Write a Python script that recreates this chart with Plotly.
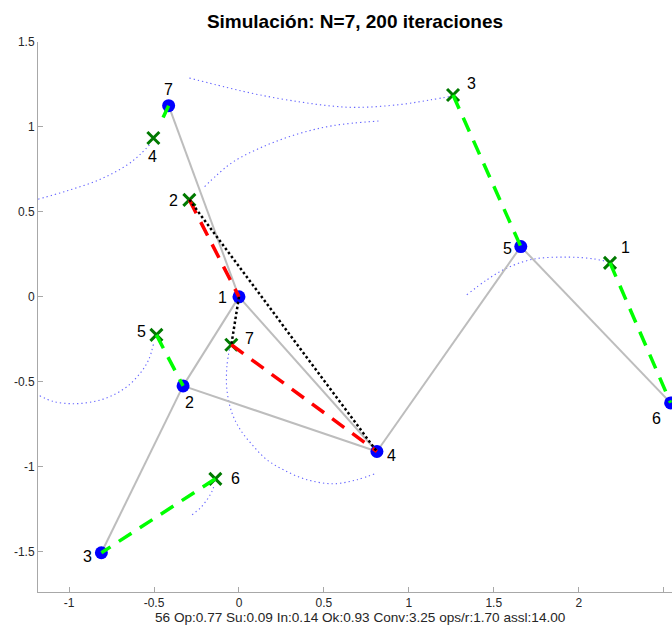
import plotly.graph_objects as go

# ---------------- data ----------------
agent_ids = [1, 2, 3, 4, 5, 6, 7]
agent_x = [0.0, -0.329, -0.810, 0.812, 1.659, 2.541, -0.414]
agent_y = [0.0, -0.524, -1.506, -0.910, 0.296, -0.624, 1.125]

target_ids = [1, 2, 3, 4, 5, 6, 7]
target_x = [2.184, -0.292, 1.260, -0.504, -0.486, -0.139, -0.045]
target_y = [0.200, 0.571, 1.188, 0.935, -0.224, -1.071, -0.282]

# communication graph between agents (agent ids)
edges = [(7, 1), (1, 2), (1, 4), (2, 3), (2, 4), (4, 5), (5, 6)]

# assignments (target id, agent id)
green_links = [(3, 5), (1, 6), (5, 2), (6, 3)]
green_short_link = (4, 7)
red_links = [(2, 1), (7, 4)]
black_links = [(2, 4), (7, 1)]

# target trajectories (dotted blue)
path_t3_x = [-0.292, -0.081, 0.125, 0.361, 0.537, 0.696, 0.949, 1.125, 1.260]
path_t3_y = [1.288, 1.235, 1.188, 1.147, 1.124, 1.115, 1.132, 1.159, 1.182]
path_t2_x = [-0.202, -0.129, -0.032, 0.165, 0.361, 0.555, 0.821]
path_t2_y = [0.649, 0.718, 0.796, 0.894, 0.963, 1.008, 1.035]
path_t4_x = [-1.182, -1.012, -0.816, -0.659, -0.581, -0.518]
path_t4_y = [0.575, 0.624, 0.692, 0.776, 0.839, 0.904]
path_t1_x = [1.341, 1.459, 1.576, 1.733, 1.929, 2.086, 2.165]
path_t1_y = [0.012, 0.100, 0.169, 0.222, 0.234, 0.224, 0.208]
path_t5_x = [-1.173, -1.091, -0.973, -0.855, -0.757, -0.659, -0.581, -0.532, -0.502]
path_t5_y = [-0.582, -0.616, -0.629, -0.616, -0.586, -0.528, -0.449, -0.371, -0.273]
path_t7_x = [-0.051, -0.071, -0.071, -0.041, 0.008, 0.086, 0.165, 0.262, 0.400, 0.556, 0.694, 0.812]
path_t7_y = [-0.282, -0.410, -0.547, -0.684, -0.782, -0.880, -0.959, -1.018, -1.076, -1.100, -1.076, -1.037]
path_t6_x = [-0.276, -0.228, -0.188, -0.159, -0.145]
path_t6_y = [-1.282, -1.243, -1.194, -1.145, -1.106]

x_ticks = [-1, -0.5, 0, 0.5, 1, 1.5, 2, 2.5]
y_ticks = [-1.5, -1, -0.5, 0, 0.5, 1, 1.5]
x_tick_labels = ["-1", "-0.5", "0", "0.5", "1", "1.5", "2", "2.5"]
y_tick_labels = ["-1.5", "-1", "-0.5", "0", "0.5", "1", "1.5"]

title_text = "Simulación: N=7, 200 iteraciones"
xlabel_text = "56 Op:0.77 Su:0.09 In:0.14 Ok:0.93 Conv:3.25 ops/r:1.70 assl:14.00"

# label pixel offsets (style)
agent_label_shift = {1: (-16, 1), 2: (6, 17), 3: (-14, 4), 4: (15, 4),
                     5: (-13, 2), 6: (-14, 16), 7: (0, -16)}
target_label_shift = {1: (16, -15), 2: (-16, 1), 3: (18, -12), 4: (-1, 18),
                      5: (-15, -3), 6: (20, 0), 7: (18, -6)}

# ---------------- figure ----------------
FONT = "Liberation Sans, Arial, Helvetica, sans-serif"
fig = go.Figure()

paths = [(path_t3_x, path_t3_y), (path_t2_x, path_t2_y), (path_t4_x, path_t4_y),
         (path_t1_x, path_t1_y), (path_t5_x, path_t5_y), (path_t7_x, path_t7_y),
         (path_t6_x, path_t6_y)]
for px, py in paths:
    fig.add_trace(go.Scatter(x=px, y=py, mode="lines", line_shape="spline",
                             line=dict(color="rgb(100,100,255)", width=1.1, dash="1.3px,3px"),
                             hoverinfo="skip"))

ax = dict(zip(agent_ids, agent_x))
ay = dict(zip(agent_ids, agent_y))
tx = dict(zip(target_ids, target_x))
ty = dict(zip(target_ids, target_y))

ex, ey = [], []
for a, b in edges:
    ex += [ax[a], ax[b], None]
    ey += [ay[a], ay[b], None]
fig.add_trace(go.Scatter(x=ex, y=ey, mode="lines",
                         line=dict(color="#bdbdbd", width=2), hoverinfo="skip"))

fig.add_trace(go.Scatter(x=agent_x, y=agent_y, mode="markers",
                         marker=dict(color="#0000ff", size=13, line=dict(width=0)),
                         hoverinfo="skip"))
fig.add_trace(go.Scatter(x=target_x, y=target_y, mode="markers",
                         marker=dict(symbol="x-thin", size=12, color="#007a00",
                                     line=dict(color="#007a00", width=3)),
                         hoverinfo="skip"))

def link_trace(links, color, width, dash, from_agent=False):
    for t, a in links:
        if from_agent:
            xs, ys = [ax[a], tx[t]], [ay[a], ty[t]]
        else:
            xs, ys = [tx[t], ax[a]], [ty[t], ay[a]]
        fig.add_trace(go.Scatter(x=xs, y=ys, mode="lines",
                                 line=dict(color=color, width=width, dash=dash),
                                 hoverinfo="skip"))

link_trace(green_links, "#00ff00", 3.5, "15px,10px")
link_trace([green_short_link], "#00ff00", 3.5, "13px,200px", from_agent=True)
link_trace(red_links, "#ff0000", 3.5, "15px,10px")
link_trace([black_links[0]], "#000000", 2.5, "2.5px,2.5px")
link_trace([black_links[1]], "#000000", 2.5, "2.5px,2.5px", from_agent=True)

annotations = []
for i, x, y in zip(agent_ids, agent_x, agent_y):
    dx, dy = agent_label_shift[i]
    annotations.append(dict(x=x, y=y, xref="x", yref="y", text=str(i), showarrow=False,
                            xshift=dx, yshift=-dy, font=dict(size=16, color="black", family=FONT)))
for i, x, y in zip(target_ids, target_x, target_y):
    dx, dy = target_label_shift[i]
    annotations.append(dict(x=x, y=y, xref="x", yref="y", text=str(i), showarrow=False,
                            xshift=dx, yshift=-dy, font=dict(size=16, color="black", family=FONT)))
annotations.append(dict(x=0.508, y=-0.047, xref="paper", yref="paper", text=xlabel_text,
                        showarrow=False, xanchor="center", yanchor="middle",
                        font=dict(size=13.6, color="#262626", family=FONT)))

axis_common = dict(showgrid=False, zeroline=False, showline=True, linecolor="#a8a8a8",
                   linewidth=1, ticks="inside", ticklen=5, tickcolor="#a8a8a8",
                   tickfont=dict(size=12, color="#262626", family=FONT))

fig.update_layout(
    width=672, height=628,
    margin=dict(l=38, r=0, t=42, b=36),
    paper_bgcolor="white", plot_bgcolor="white",
    showlegend=False,
    title=dict(text="<b>" + title_text + "</b>", x=0.5, xref="paper", xanchor="center",
               y=1 - 21 / 628, yref="container", yanchor="middle",
               font=dict(size=19, color="black", family=FONT)),
    xaxis=dict(range=[-1.183, 2.549], tickvals=x_ticks, ticktext=x_tick_labels, **axis_common),
    yaxis=dict(range=[-1.737, 1.5], tickvals=y_ticks, ticktext=y_tick_labels, **axis_common),
    annotations=annotations,
)

fig.write_html("out.html", config={"displayModeBar": False},
               post_script="document.body.style.margin='0';document.body.style.overflow='hidden';")
